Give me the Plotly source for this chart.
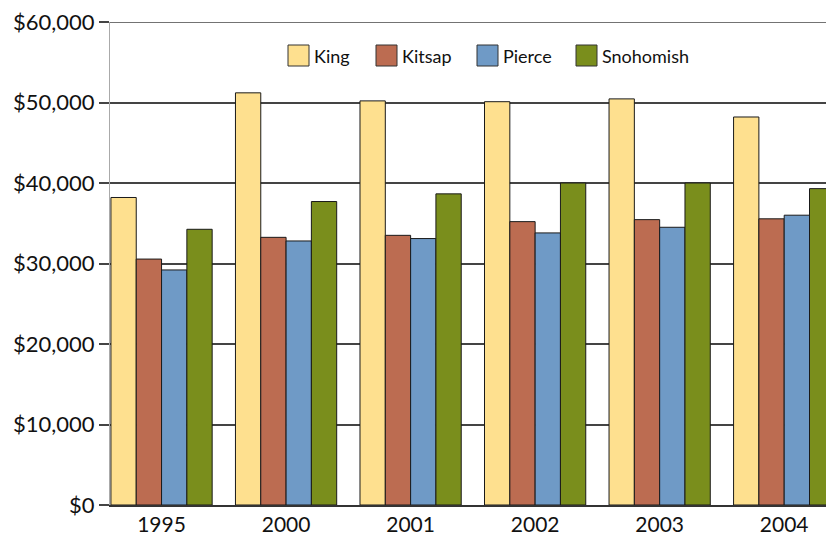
import plotly.graph_objects as go

years = ["1995", "2000", "2001", "2002", "2003", "2004"]
series_names = ["King", "Kitsap", "Pierce", "Snohomish"]
king = [38200, 51200, 50200, 50100, 50450, 48200]
kitsap = [30550, 33250, 33500, 35200, 35450, 35550]
pierce = [29200, 32800, 33100, 33800, 34500, 36000]
snohomish = [34250, 37700, 38650, 40000, 40000, 39300]
colors = ["#FEE08F", "#BC6C51", "#6F9AC6", "#7A8E1C"]
y_ticks = [0, 10000, 20000, 30000, 40000, 50000, 60000]
y_tick_labels = ["$0", "$10,000", "$20,000", "$30,000", "$40,000", "$50,000", "$60,000"]

values = [king, kitsap, pierce, snohomish]
FONT = "Lato"

# page body has an 8px margin; figure is sized/placed to compensate
L, T, B = 102, 14, 42
FW, FH = 826, 539
PW, PH = FW - L, FH - T - B
YMAX = y_ticks[-1]


def py(screen_y):
    """screen pixel y -> paper fraction"""
    fy = screen_y - 8
    return (T + PH - fy) / PH


def px(screen_x):
    fx = screen_x - 8
    return (fx - L) / PW


fig = go.Figure()
for name, vals, col in zip(series_names, values, colors):
    fig.add_trace(go.Bar(
        x=years, y=vals, name=name,
        marker=dict(color=col, line=dict(color="#1a1a1a", width=1)),
        showlegend=False,
    ))

# top gridline (plotly omits the gridline at the range edge)
fig.add_shape(type="line", xref="paper", yref="y", x0=0, x1=1, y0=YMAX, y1=YMAX,
              line=dict(color="#444", width=1.5), layer="below")

# custom legend (large square swatches), positions in screen pixels
legend_x = [288, 376, 477, 576]
for name, col, lx in zip(series_names, colors, legend_x):
    fig.add_shape(type="rect", xref="paper", yref="paper",
                  x0=px(lx), x1=px(lx + 21), y0=py(66), y1=py(45),
                  fillcolor=col, line=dict(color="#333", width=1))
    fig.add_annotation(xref="paper", yref="paper",
                       x=px(lx + 24), y=py(55.5),
                       text=name, showarrow=False, xanchor="left", yanchor="middle",
                       font=dict(family=FONT, size=18, color="#111"))

fig.update_layout(
    width=FW, height=FH,
    margin=dict(l=L, r=0, t=T, b=B),
    paper_bgcolor="white", plot_bgcolor="white",
    barmode="group", bargap=0.187, bargroupgap=0,
    font=dict(family=FONT, size=20, color="#111"),
)
fig.update_xaxes(
    type="category", range=[-0.414, 5.40],
    showgrid=False, ticks="", showline=True, linecolor="#333", linewidth=1.5,
    tickfont=dict(family=FONT, size=21, color="#111"),
)
fig.update_yaxes(
    range=[0, YMAX], tickvals=y_ticks, ticktext=y_tick_labels,
    showgrid=True, gridcolor="#444", gridwidth=1.5,
    ticks="outside", ticklen=10, tickcolor="#444", tickwidth=1.5,
    showline=True, linecolor="#aaa", linewidth=1,
    zeroline=False, ticklabeloverflow="allow",
    tickfont=dict(family=FONT, size=22, color="#111"),
)

fig.write_html("out.html")
